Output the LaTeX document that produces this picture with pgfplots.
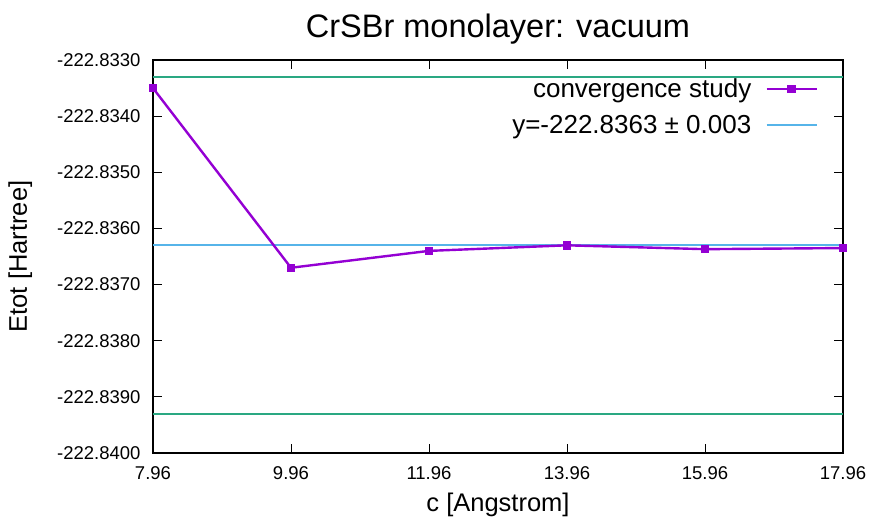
\documentclass[border=0pt]{standalone}
\usepackage{pgfplots}
\pgfplotsset{compat=1.18}
\usepackage{fontspec}
\setmainfont{Liberation Sans}
\definecolor{gpviolet}{HTML}{9400D3}
\definecolor{gpblue}{HTML}{56B4E9}
\definecolor{gpgreen}{HTML}{2AA882}
% Energies are given as real values; the trafo maps them to units of 1e-4 Hartree above -222.84
% (done on the digit string, so no precision is lost in the FPU)
\makeatletter
\newdimen\etotdim
\def\etotset#1{\etotdim=\dimexpr400pt-0.#1pt*1000\relax\edef\pgfmathresult{\strip@pt\etotdim}}
\def\etotshift-222.8#1\relax{\etotset{#1}}
\def\etotfloat2Y2.228#1e2]\relax{\etotset{#1}}
\def\etotany#1#2\relax{\if-#1\etotshift#1#2\relax\else\etotfloat#1#2\relax\fi}
\makeatother
\begin{document}
\begin{tikzpicture}
\useasboundingbox (-153pt,-65pt) rectangle (716pt,453pt);
\begin{axis}[
  at={(0,0)}, anchor=south west,
  scale only axis, width=690pt, height=393pt,
  y coord trafo/.code={\edef\etottmp{#1}\expandafter\etotany\etottmp\relax},
  xmin=7.96, xmax=17.96, ymin=-222.8400, ymax=-222.8330,
  xtick={7.96,9.96,11.96,13.96,15.96,17.96},
  xticklabels={7.96,9.96,11.96,13.96,15.96,17.96},
  ytick={-222.8400,-222.8390,-222.8380,-222.8370,-222.8360,-222.8350,-222.8340,-222.8330},
  yticklabels={-222.8400,-222.8390,-222.8380,-222.8370,-222.8360,-222.8350,-222.8340,-222.8330},
  tick label style={font=\fontsize{18.5}{22}\selectfont},
  yticklabel style={xshift=-9pt},
  xticklabel style={yshift=-10pt},
  tick align=inside, major tick length=9pt,
  tick style={line width=1pt, black},
  axis line style={line width=1.3pt},
  title={CrSBr monolayer: vacuum},
  title style={font=\fontsize{32.5}{38}\selectfont, yshift=6pt},
  xlabel={c [Angstrom]},
  ylabel={Etot [Hartree]},
  label style={font=\fontsize{25.5}{30}\selectfont},
  xlabel style={yshift=-7pt},
  ylabel style={yshift=18pt},
  legend plot pos=right,
  legend cell align=right,
  legend style={draw=none, fill=none, at={(0.968,0.962)}, anchor=north east,
    font=\fontsize{26}{31}\selectfont, row sep=12pt, column sep=12pt},
  legend image code/.code={\draw[mark repeat=2,mark phase=2,#1] plot coordinates {(0pt,0pt) (25pt,0pt) (50pt,0pt)};},
]
\addplot[gpgreen, line width=1.5pt, forget plot] coordinates {(7.96,-222.8333) (17.96,-222.8333)};
\addplot[gpgreen, line width=1.5pt, forget plot] coordinates {(7.96,-222.8393) (17.96,-222.8393)};
\addplot[gpblue, line width=1.8pt, forget plot] coordinates {(7.96,-222.8363) (17.96,-222.8363)};
\addplot[gpviolet, line width=2.4pt, mark=square*, mark size=3pt, mark options={solid}] coordinates {
  (7.96,-222.8335) (9.96,-222.8367) (11.96,-222.8364) (13.96,-222.8363) (15.96,-222.83637) (17.96,-222.83635)};
\addlegendentry{convergence study}
\addlegendimage{gpblue, line width=1.6pt}
\addlegendentry{y=-222.8363 ± 0.003}
\end{axis}
\end{tikzpicture}
\end{document}
